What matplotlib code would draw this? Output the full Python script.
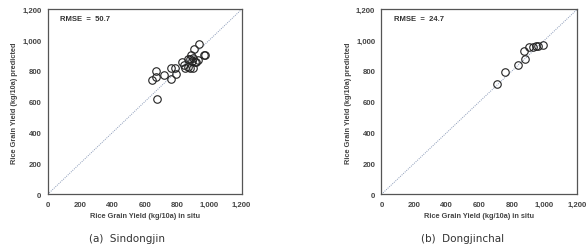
import matplotlib
matplotlib.use("Agg")
import matplotlib.pyplot as plt

# Sindongjin (a)
a_obs = [643, 670, 670, 674, 722, 765, 765, 792, 786, 833, 841, 852, 870, 880,
         870, 885, 880, 895, 897, 905, 930, 935, 965, 975, 900, 910, 920]
a_pred = [739, 797, 760, 619, 771, 749, 821, 782, 821, 858, 836, 821, 825, 822,
          880, 905, 875, 865, 885, 945, 870, 975, 905, 905, 820, 860, 860]
# Dongjinchal (b)
b_obs = [708, 755, 834, 881, 871, 906, 932, 950, 962, 990]
b_pred = [713, 795, 836, 877, 929, 955, 955, 960, 962, 968]

ticks = [0, 200, 400, 600, 800, 1000, 1200]
tick_labels = ["0", "200", "400", "600", "800", "1,000", "1,200"]
rmse = ["RMSE  =  50.7", "RMSE  =  24.7"]
captions = ["(a)  Sindongjin", "(b)  Dongjinchal"]
xlab = "Rice Grain Yield (kg/10a) in situ"
ylab = "Rice Grain Yield (kg/10a) predicted"

bold_font = "Liberation Sans"

fig = plt.figure(figsize=(5.86, 2.51), dpi=100)
positions = [[0.0814, 0.222, 0.331, 0.737], [0.651, 0.222, 0.334, 0.737]]
data = [(a_obs, a_pred), (b_obs, b_pred)]
cap_x = [127 / 586, 463 / 586]

for i, (pos, (xo, yp)) in enumerate(zip(positions, data)):
    ax = fig.add_axes(pos)
    ax.set_xlim(0, 1200)
    ax.set_ylim(0, 1200)
    ax.plot([0, 1200], [0, 1200], linestyle=(0, (1, 1.2)), color="#8a9ab8", lw=0.7, zorder=1)
    ax.plot(xo, yp, linestyle="none", marker="o", markersize=5.4,
            markerfacecolor="none", markeredgecolor="#222222", markeredgewidth=0.8, zorder=2)
    ax.set_xticks(ticks)
    ax.set_xticklabels(tick_labels)
    ax.set_yticks(ticks)
    ax.set_yticklabels(tick_labels)
    ax.tick_params(length=0, labelsize=5.6, colors="#444444", pad=4.5)
    for lab in ax.get_xticklabels() + ax.get_yticklabels():
        lab.set_fontweight("bold")
        lab.set_family(bold_font)
    for s in ax.spines.values():
        s.set_color("#555555")
        s.set_linewidth(0.9)
    ax.set_xlabel(xlab, fontsize=5.3, fontweight="bold", color="#444444", labelpad=3,
                  family=bold_font)
    ax.set_ylabel(ylab, fontsize=5.3, fontweight="bold", color="#444444", labelpad=3,
                  family=bold_font)
    ax.text(76, 1138, rmse[i], fontsize=5.5, fontweight="bold", color="#333333",
            ha="left", va="center", family=bold_font)
    fig.text(cap_x[i], 1 - 239 / 251, captions[i], fontsize=7.5, color="#333333",
             ha="center", va="center")

fig.savefig("out.png", dpi=100)
